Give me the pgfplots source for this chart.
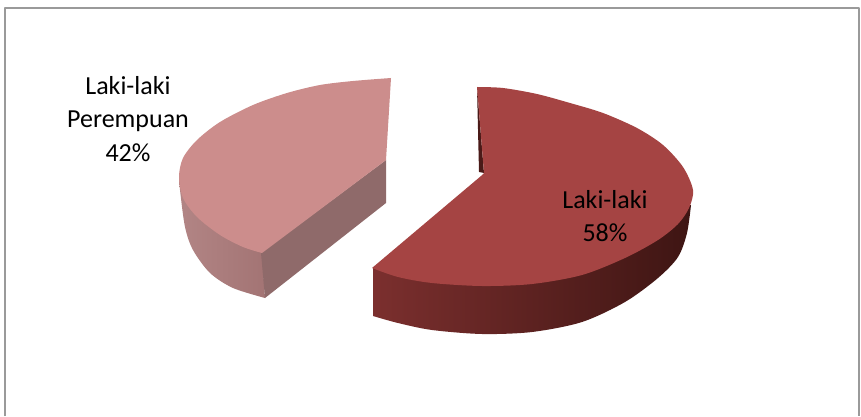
\documentclass[border=0pt]{standalone}
\usepackage{pgfplots}
\pgfplotsset{compat=1.18}
\usepackage{fontspec}
\setmainfont{Carlito}
\definecolor{darktop}{HTML}{A54443}
\definecolor{lighttop}{HTML}{CC8D8C}
\definecolor{framec}{HTML}{9A9A9A}
\definecolor{lwl}{HTML}{B28585}
\definecolor{lwr}{HTML}{A37474}
\definecolor{lcut}{HTML}{8F6A6A}
\definecolor{dwl}{HTML}{7B2F2E}
\definecolor{dwm}{HTML}{572120}
\definecolor{dwr}{HTML}{3E1513}
\definecolor{dcut}{HTML}{4A1A18}
\tikzset{lbl/.style={font=\fontsize{26}{30}\selectfont, anchor=base, text=black, inner sep=0pt}}
\begin{document}
\begin{tikzpicture}[x=1pt,y=1pt]
\begin{axis}[
  scale only axis, width=861pt, height=416pt,
  xmin=0, xmax=861, ymin=0, ymax=416, y dir=reverse,
  hide axis, clip=false,
  every axis plot/.append style={line join=round}
]
% page extent and frame
\addplot[draw=white, line width=0pt, forget plot] coordinates {(0,0)(861,0)(861,416)(0,416)} -- cycle;
\addplot[draw=framec, line width=2pt] coordinates {(5,416)(5,8)(859,8)(859,416)};
% light slice: outer wall
\addplot[draw=none, smooth, left color=lwl, right color=lwr] coordinates {
 (179,177)(180,190)(185,227)(193,250)(210,273)(233,288)(265,298)} -- (axis cs:262,253) -- cycle;
% light slice: cut wall
\addplot[draw=none, fill=lcut] coordinates {(386,160)(386,203)(265,298)(261,253)} -- cycle;
% light slice: top
\addplot[draw=none, smooth, fill=lighttop] coordinates {
 (262,253)(243,247)(220,235)(197,217)(183,198)(179,177)(183,158)(197,140)(220,122)(253,105)(287,93)(320,85)(353,81)(391,78)} -- (axis cs:386,160) -- cycle;
% dark slice: outer wall
\addplot[draw=none, smooth, left color=dwl, middle color=dwm, right color=dwr] coordinates {
 (373,316)(398,323)(432,330)(482,334)(532,332)(582,322)(625,302)(658,278)(678,257)(687,233)(691,205)} -- (axis cs:373,268) -- cycle;
% dark slice: cut wall
\addplot[draw=none, fill=dcut] coordinates {(477,87)(479,172)(484,173)} -- cycle;
% dark slice: top
\addplot[draw=none, smooth, fill=darktop] coordinates {
 (477,87)(503,88)(537,94)(570,103)(603,113)(637,128)(663,145)(683,167)(693,190)(689,208)(678,224)(658,240)(625,258)(582,275)(532,284)(482,286)(432,283)(398,277)(372,268)} -- (axis cs:481,176) -- (axis cs:484,173) -- cycle;
% labels
\node[lbl] at (axis cs:128,95) {Laki-laki};
\node[lbl] at (axis cs:128,128) {Perempuan};
\node[lbl] at (axis cs:128,161) {42\%};
\node[lbl] at (axis cs:605,208) {Laki-laki};
\node[lbl] at (axis cs:605,241) {58\%};
\end{axis}
\end{tikzpicture}
\end{document}
